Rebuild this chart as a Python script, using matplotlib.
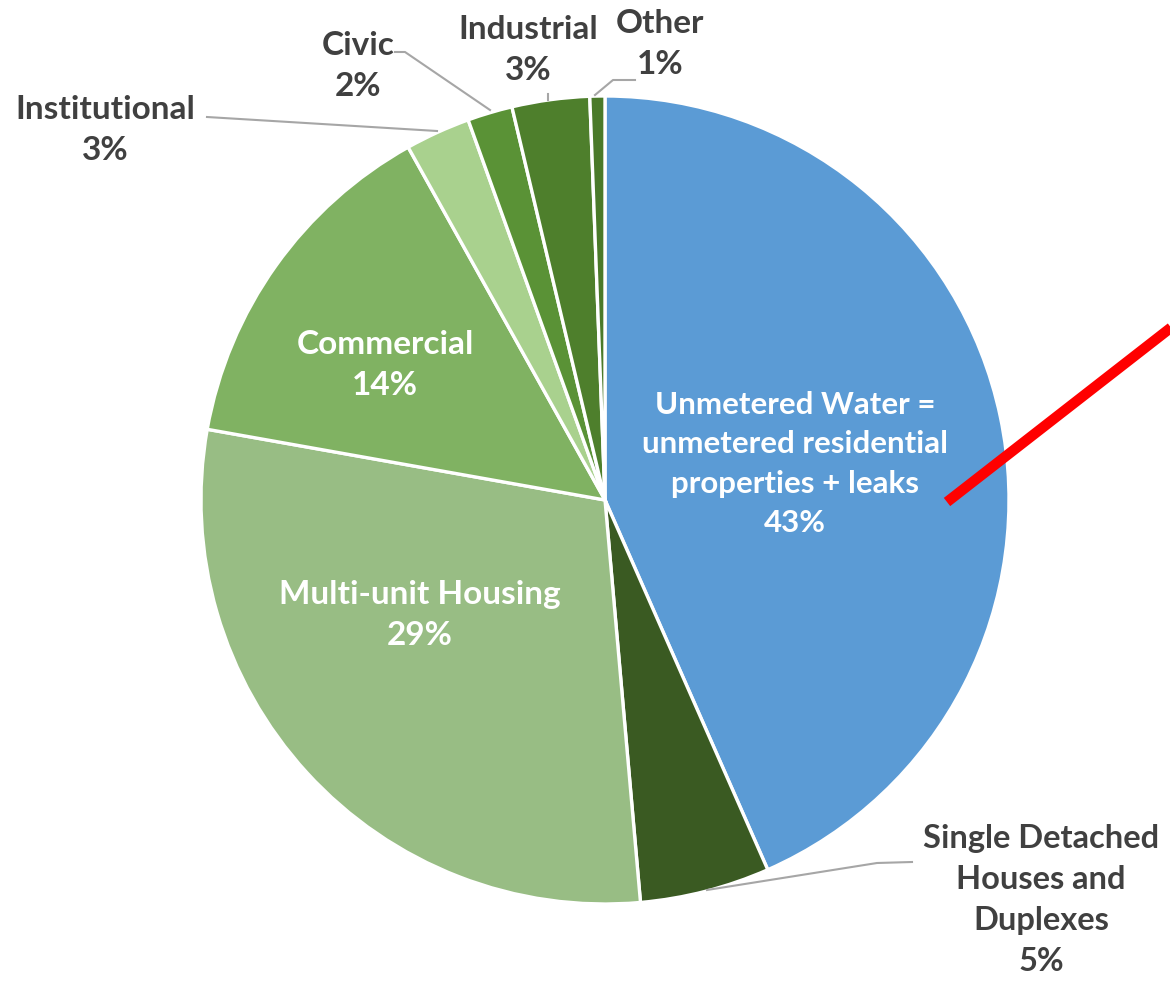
import matplotlib
matplotlib.use("Agg")
import matplotlib.pyplot as plt

categories = ["Unmetered Water =\nunmetered residential\nproperties + leaks",
              "Single Detached\nHouses and\nDuplexes",
              "Multi-unit Housing", "Commercial", "Institutional",
              "Civic", "Industrial", "Other"]
values = [43.4, 5.2, 29.2, 14.1, 2.6, 1.8, 3.1, 0.6]
colors = ["#5B9BD5", "#3A5A22", "#98BD84", "#80B262", "#A9D18E",
          "#5A9236", "#4E7F2C", "#4A7A2A"]

W, H = 1170, 983
fig = plt.figure(figsize=(W / 100, H / 100), dpi=100)
ax = fig.add_axes([0, 0, 1, 1])
cx, cy, R = 605, H - 500, 404
ax.pie(values, colors=colors, startangle=90, counterclock=False,
       center=(cx, cy), radius=R,
       wedgeprops=dict(edgecolor="white", linewidth=2.4))
ax.set_xlim(0, W)
ax.set_ylim(0, H)
ax.set_aspect("equal")
ax.axis("off")

# label positions (pixel, from top), colours and sizes
label_pos = [(795, 464), (1041, 900), (420, 615), (385, 365),
             (105, 130), (358, 66), (528, 50), (660, 44)]
inside = [True, False, True, True, False, False, False, False]
sizes = [22.5, 23.5, 24, 24, 24, 24, 24, 24]
for cat, v, (x, y), ins, fs in zip(categories, values, label_pos, inside, sizes):
    txt = f"{cat}\n{round(v):d}%"
    ax.text(x, H - y, txt, ha="center", va="center",
            fontsize=fs, fontweight="bold", family=["Lato", "DejaVu Sans"],
            color="white" if ins else "#404040", linespacing=1.5)

# leader lines
grey = "#A6A6A6"
leaders = [
    [(207, 117), (437, 131)],
    [(395, 52), (405, 52), (490, 110)],
    [(548, 94), (548, 100)],
    [(595, 95), (613, 80), (635, 80)],
    [(707, 890), (877, 863), (912, 862)],
]
for pts in leaders:
    ax.plot([p[0] for p in pts], [H - p[1] for p in pts], color=grey, lw=1.5)

# red annotation line
ax.plot([947, 1200], [H - 502, H - 305], color="#FF0000", lw=7.5,
        solid_capstyle="butt", clip_on=True)

fig.savefig("out.png", dpi=100)
